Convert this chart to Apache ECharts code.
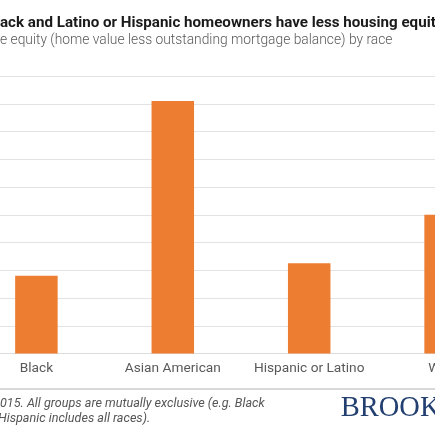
<!DOCTYPE html>
<html>
<head>
<meta charset="utf-8">
<script src="https://cdn.jsdelivr.net/npm/echarts@6/dist/echarts.min.js"></script>
<style>
  html, body { margin: 0; padding: 0; background: #fff; }
  #chart { width: 435px; height: 435px; }
</style>
</head>
<body>
<div id="chart"></div>
<script>
// data
const categories = ['Black', 'Asian American', 'Hispanic or Latino', 'White']
const medianEquity = [56000, 182000, 65000, 100000]
const titleText = 'Black and Latino or Hispanic homeowners have less housing equity'
const subtitleText = 'Home equity (home value less outstanding mortgage balance) by race'
const noteLines = ['2015. All groups are mutually exclusive (e.g. Black', 'Hispanic includes all races).']

// width of a string, used to push the clipped start off the left edge
const ctx = document.createElement('canvas').getContext('2d')
function textWidth(str, font) {
  ctx.font = font
  return ctx.measureText(str).width
}

const titleFont = 'bold 15.15px Roboto'
const subFont = '300 13.8px Roboto'
const noteFont = 'italic 12.6px Roboto'

const myChart = echarts.init(document.getElementById('chart'))
const options = {
  animation: false,
  grid: {
    top: 76,
    bottom: 81.5,
    left: -31.8,
    right: -78.8,
    outerBoundsMode: 'none'
  },
  xAxis: {
    type: 'category',
    data: categories,
    axisTick: { show: false },
    axisLine: { lineStyle: { color: '#dcdcdc', width: 1 } },
    axisLabel: {
      color: '#595959', fontFamily: 'Roboto', fontSize: 13.7, margin: 8.5,
      interval: 0, hideOverlap: false
    }
  },
  yAxis: {
    type: 'value',
    min: 0,
    max: 200000,
    interval: 20000,
    axisLabel: { show: false },
    splitLine: { lineStyle: { color: '#e3e3e3', width: 1 } }
  },
  series: [{
    type: 'bar',
    data: medianEquity,
    barWidth: 42.5,
    itemStyle: { color: '#ED7D31' }
  }],
  graphic: [
    {
      type: 'text', x: -textWidth('Bl', titleFont), y: 23,
      style: { text: titleText, font: titleFont, fill: '#1a1a1a', textVerticalAlign: 'middle' }
    },
    {
      type: 'text', x: -textWidth('Hom', subFont), y: 41,
      style: { text: subtitleText, font: subFont, fill: '#595959', textVerticalAlign: 'middle' }
    },
    {
      type: 'line',
      shape: { x1: 0, y1: 389, x2: 435, y2: 389 },
      style: { stroke: '#cccccc', lineWidth: 1.5 }
    },
    {
      type: 'text', x: -textWidth('2', noteFont), y: 403.5,
      style: { text: noteLines[0], font: noteFont, fill: '#555555', textVerticalAlign: 'middle' }
    },
    {
      type: 'text', x: -2, y: 418.8,
      style: { text: noteLines[1], font: noteFont, fill: '#555555', textVerticalAlign: 'middle' }
    },
    {
      type: 'text', x: 340.7, y: 408.5,
      style: { text: 'BROOKINGS', font: '28.5px "Liberation Serif"', fill: '#223f6f', textVerticalAlign: 'middle' }
    }
  ]
}
myChart.setOption(options)
window.onresize = myChart.resize
</script>
</body>
</html>
